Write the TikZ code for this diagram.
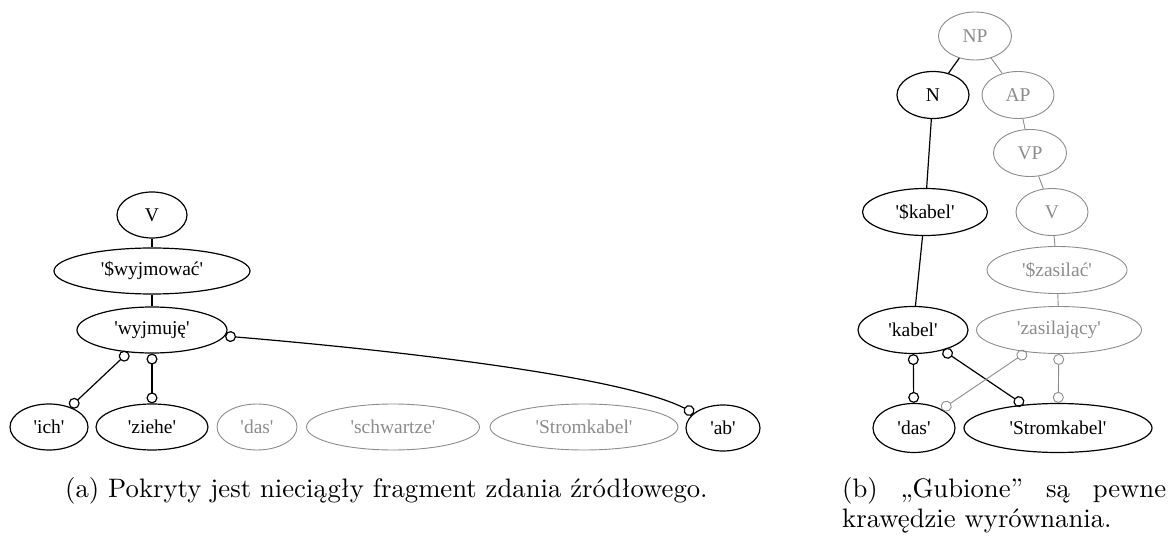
\documentclass[tikz,border=0pt]{standalone}
\usepackage{fontspec}
\newfontfamily\gv{Liberation Serif}
\newfontfamily\capfont{lmroman10-regular.otf}
\usetikzlibrary{shapes.geometric,arrows.meta}
\definecolor{lgray}{RGB}{140,140,140}
\tikzset{
  nd/.style={ellipse, draw=black, line width=1.2pt, inner sep=0pt,
    font=\gv\fontsize{19.5}{22}\selectfont, text=black, minimum height=46pt},
  gnd/.style={nd, draw=lgray, text=lgray, line width=0.9pt},
  ln/.style={draw=black, line width=1.2pt},
  gln/.style={draw=lgray, line width=0.9pt},
  cc/.style={{Circle[open,length=11pt,width=11pt]}-{Circle[open,length=11pt,width=11pt]}},
  captext/.style={anchor=base west, inner sep=0pt, font=\capfont\fontsize{26.7}{30}\selectfont}
}
\begin{document}
\begin{tikzpicture}[x=1pt, y=-1pt]
\useasboundingbox (0,0) rectangle (1171,540);

% (a) source-side tree
\node[nd, minimum width=70pt]  (V)    at (152,215) {V};
\node[nd, minimum width=196pt] (swyj) at (152,271) {'\$wyjmować'};
\node[nd, minimum width=150pt] (wyj)  at (152,330) {'wyjmuję'};
\node[nd, minimum width=78pt]  (ich)  at (49,427)  {'ich'};
\node[nd, minimum width=112pt] (ziehe) at (152,427) {'ziehe'};
\node[gnd, minimum width=80pt]  (dasl) at (257,427) {'das'};
\node[gnd, minimum width=173pt] (schw) at (393,427) {'schwartze'};
\node[gnd, minimum width=188pt] (stroml) at (584,427) {'Stromkabel'};
\node[nd, minimum width=74pt]  (ab)   at (723,428) {'ab'};

\coordinate (c1) at (380,349);
\coordinate (c2) at (620,375);

\draw[ln] (V) -- (swyj);
\draw[ln] (swyj) -- (wyj);
\draw[ln, cc] (wyj) -- (ich);
\draw[ln, cc] (wyj) -- (ziehe);
\draw[ln, cc] (wyj) .. controls (c1) and (c2) .. (ab);

% (b) target-side tree
\node[gnd, minimum width=73pt, minimum height=48pt] (NP) at (975,36) {NP};
\node[nd, minimum width=72pt, minimum height=47pt]  (N)  at (933,95) {N};
\node[gnd, minimum width=72pt, minimum height=47pt] (AP) at (1018,95) {AP};
\node[gnd, minimum width=73pt, minimum height=47pt] (VP) at (1030,153) {VP};
\node[gnd, minimum width=72pt, minimum height=47pt] (Vr) at (1052,212) {V};
\node[nd, minimum width=125pt, minimum height=47pt] (skabel) at (925,212) {'\$kabel'};
\node[gnd, minimum width=140pt, minimum height=47pt] (szas) at (1057,270) {'\$zasilać'};
\node[nd, minimum width=110pt, minimum height=47pt] (kabel) at (913,330) {'kabel'};
\node[gnd, minimum width=165pt, minimum height=47pt] (zas) at (1059,330) {'zasilający'};
\node[nd, minimum width=82pt, minimum height=49pt] (dasr) at (914,428) {'das'};
\node[nd, minimum width=188pt, minimum height=49pt] (stromr) at (1058,428) {'Stromkabel'};

\draw[ln] (NP) -- (N);
\draw[gln] (NP) -- (AP);
\draw[ln] (N) -- (skabel);
\draw[ln] (skabel) -- (kabel);
\draw[gln] (AP) -- (VP);
\draw[gln] (VP) -- (Vr);
\draw[gln] (Vr) -- (szas);
\draw[gln] (szas) -- (zas);
\draw[ln, cc] (kabel) -- (dasr);
\draw[ln, cc] (kabel) -- (stromr);
\draw[gln, cc] (zas) -- (dasr);
\draw[gln, cc] (zas) -- (stromr);

% captions
\node[captext] (capa) at (65,497) {(a) Pokryty jest nieciągły fragment zdania źródłowego.};
\node[captext] (capb1) at (842,497) {\makebox[324pt][s]{(b) „Gubione” są pewne}};
\node[captext] (capb2) at (842,527) {krawędzie wyrównania.};
\end{tikzpicture}
\end{document}
